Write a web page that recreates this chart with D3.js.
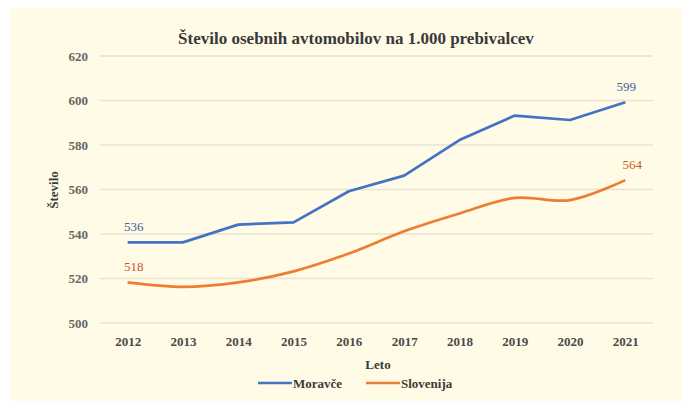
<!DOCTYPE html>
<html>
<head>
<meta charset="utf-8">
<script src="https://cdn.jsdelivr.net/npm/d3@7"></script>
<style>
  body { margin: 0; background: #ffffff; }
  svg { display: block; }
</style>
</head>
<body>
<div id="chart"></div>
<script>
const years = ["2012", "2013", "2014", "2015", "2016", "2017", "2018", "2019", "2020", "2021"];
const moravce = [536, 536, 544, 545, 559, 566, 582, 593, 591, 599];
const slovenija = [518, 516, 518, 523, 531, 541, 549, 556, 555, 564];
const yTicks = [500, 520, 540, 560, 580, 600, 620];

const width = 682, height = 403;
const margin = {top: 55.5, right: 29, bottom: 80.5, left: 100};
const innerWidth = width - margin.left - margin.right;
const innerHeight = height - margin.top - margin.bottom;
const serif = "Liberation Serif, DejaVu Serif, serif";

const svg = d3.select("#chart").append("svg")
    .attr("width", width)
    .attr("height", height)
    .attr("font-family", serif);

// cream panel
svg.append("rect")
    .attr("x", 10).attr("y", 8)
    .attr("width", width - 10).attr("height", 393)
    .attr("fill", "#fffbe6");

const g = svg.append("g")
    .attr("transform", `translate(${margin.left}, ${margin.top})`);

const xScale = d3.scalePoint()
    .domain(years)
    .range([0, innerWidth])
    .padding(0.5);

const yScale = d3.scaleLinear()
    .domain([500, 620])
    .range([innerHeight, 0]);

const yAxis = d3.axisLeft(yScale)
    .tickValues(yTicks)
    .tickSize(-innerWidth)
    .tickPadding(12);

const yAxisG = g.append("g").call(yAxis)
    .attr("font-family", serif)
    .attr("font-size", 13)
    .attr("font-weight", "bold");
yAxisG.select(".domain").remove();
yAxisG.selectAll(".tick line").attr("stroke", "#e6e3d2").attr("stroke-width", 1.5);
yAxisG.selectAll(".tick text")
    .attr("fill", "#666666")
    .attr("dy", null)
    .attr("y", 4.5);

const xAxis = d3.axisBottom(xScale).tickSize(0).tickPadding(14);
const xAxisG = g.append("g")
    .attr("transform", `translate(0, ${innerHeight})`)
    .call(xAxis)
    .attr("font-family", serif)
    .attr("font-size", 13)
    .attr("font-weight", "bold");
xAxisG.select(".domain").remove();
xAxisG.selectAll(".tick text")
    .attr("fill", "#4a4a4a")
    .attr("dy", null)
    .attr("y", 23);

// lines
const lineStraight = d3.line()
    .x((d, i) => xScale(years[i]))
    .y(d => yScale(d));

const lineSmooth = d3.line()
    .x((d, i) => xScale(years[i]))
    .y(d => yScale(d))
    .curve(d3.curveCatmullRom.alpha(0.5));

g.append("path")
    .attr("d", lineSmooth(slovenija))
    .attr("fill", "none")
    .attr("stroke", "#ed7d31")
    .attr("stroke-width", 2.7)
    .attr("stroke-linejoin", "round");

g.append("path")
    .attr("d", lineStraight(moravce))
    .attr("fill", "none")
    .attr("stroke", "#4472c4")
    .attr("stroke-width", 2.7)
    .attr("stroke-linejoin", "round");

// data labels at first and last point
const labels = [
  {series: moravce, i: 0, color: "#44609c", dx: 6},
  {series: moravce, i: 9, color: "#44609c", dx: 1},
  {series: slovenija, i: 0, color: "#c55a2a", dx: 6},
  {series: slovenija, i: 9, color: "#c55a2a", dx: 7}
];
g.selectAll(".dlabel")
    .data(labels)
    .enter().append("text")
    .attr("class", "dlabel")
    .attr("x", d => xScale(years[d.i]) + d.dx)
    .attr("y", d => yScale(d.series[d.i]) - 11)
    .attr("text-anchor", "middle")
    .attr("fill", d => d.color)
    .attr("font-size", 13)
    .text(d => d.series[d.i]);

// title
svg.append("text")
    .attr("x", 356)
    .attr("y", 44)
    .attr("text-anchor", "middle")
    .attr("fill", "#3a3a3a")
    .attr("font-size", 17)
    .attr("font-weight", "bold")
    .text("Število osebnih avtomobilov na 1.000 prebivalcev");

// axis titles
svg.append("text")
    .attr("x", -190)
    .attr("y", 58)
    .attr("transform", "rotate(-90)")
    .attr("text-anchor", "middle")
    .attr("fill", "#3a3a3a")
    .attr("font-size", 13)
    .attr("font-weight", "bold")
    .text("Število");

svg.append("text")
    .attr("x", 378)
    .attr("y", 369)
    .attr("text-anchor", "middle")
    .attr("fill", "#3a3a3a")
    .attr("font-size", 13)
    .attr("font-weight", "bold")
    .text("Leto");

// legend
const legendItems = [
  {name: "Moravče", color: "#4472c4", x: 258},
  {name: "Slovenija", color: "#ed7d31", x: 366}
];
const legend = svg.selectAll(".legend")
    .data(legendItems)
    .enter().append("g")
    .attr("transform", d => `translate(${d.x}, 383)`);
legend.append("line")
    .attr("x1", 0).attr("x2", 34)
    .attr("stroke", d => d.color)
    .attr("stroke-width", 2.7);
legend.append("text")
    .attr("x", 35)
    .attr("y", 4.5)
    .attr("fill", "#3a3a3a")
    .attr("font-size", 13)
    .attr("font-weight", "bold")
    .text(d => d.name);
</script>
</body>
</html>
